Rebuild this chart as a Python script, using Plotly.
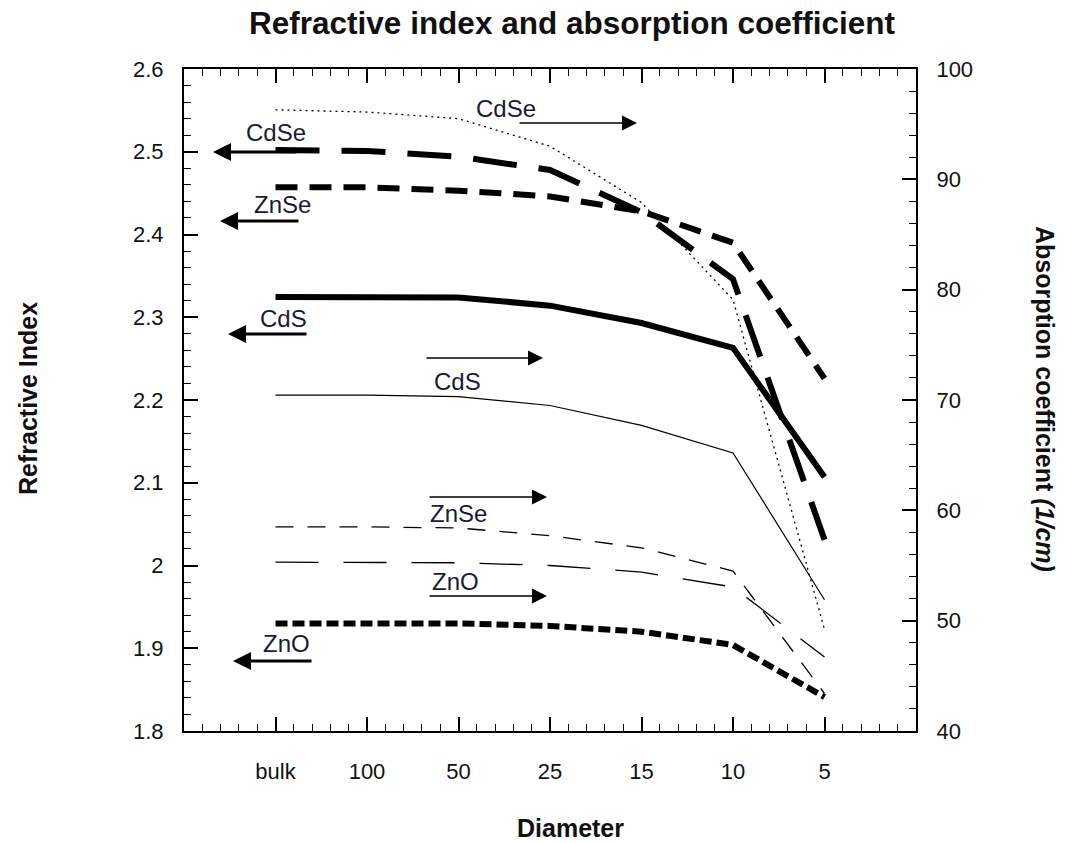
import plotly.graph_objects as go

# Nanoparticle diameter categories (nm), bulk first
diameters = ["bulk", "100", "50", "25", "15", "10", "5"]
xpos = list(range(len(diameters)))

# Refractive index (left axis)
n_cdse = [2.502, 2.501, 2.494, 2.478, 2.427, 2.346, 2.031]
n_znse = [2.457, 2.457, 2.453, 2.446, 2.428, 2.390, 2.226]
n_cds = [2.3245, 2.3245, 2.324, 2.314, 2.293, 2.263, 2.107]
n_zno = [1.930, 1.930, 1.930, 1.927, 1.920, 1.904, 1.841]

# Absorption coefficient in 1/cm (right axis)
a_cdse = [96.3, 96.1, 95.5, 93.0, 87.9, 79.1, 49.2]
a_cds = [70.45, 70.45, 70.3, 69.5, 67.7, 65.2, 51.9]
a_znse = [58.5, 58.5, 58.4, 57.7, 56.6, 54.5, 43.4]
a_zno = [55.3, 55.3, 55.25, 55.0, 54.4, 53.05, 46.7]

FONT = "Liberation Sans, Arial, sans-serif"
INK = "#111111"

# plot-area geometry in pixels (used for placing the annotations)
W, H = 1066, 843
L, R, T, B = 184, 916, 69, 731


def px(xp, yp):
    return (xp - L) / (R - L), (B - yp) / (B - T)


fig = go.Figure()

thick = [
    ("CdSe", n_cdse, "44px,22px"),
    ("ZnSe", n_znse, "22px,12px"),
    ("CdS", n_cds, "solid"),
    ("ZnO", n_zno, "12px,5px"),
]
for name, ys, dash in thick:
    fig.add_trace(go.Scatter(
        x=xpos, y=ys, mode="lines", name=name + " n",
        line=dict(color="black", width=6, dash=dash),
        yaxis="y", showlegend=False, hoverinfo="skip",
    ))

thin = [
    ("CdSe", a_cdse, "2px,4px", 1.3),
    ("CdS", a_cds, "solid", 1.2),
    ("ZnSe", a_znse, "18px,14px", 1.3),
    ("ZnO", a_zno, "43px,25px", 1.3),
]
for name, ys, dash, w in thin:
    fig.add_trace(go.Scatter(
        x=xpos, y=ys, mode="lines", name=name + " alpha",
        line=dict(color="black", width=w, dash=dash),
        yaxis="y2", showlegend=False, hoverinfo="skip",
    ))

annotations = []

# arrows pointing to the refractive-index axis (left)
left_arrows = [
    ("CdSe", (213, 152), (298, 152), (276, 133)),
    ("ZnSe", (220, 221), (300, 221), (282, 205)),
    ("CdS", (228, 334), (308, 334), (283, 318)),
    ("ZnO", (233, 661), (313, 661), (286, 643)),
]
# arrows pointing to the absorption axis (right)
right_arrows = [
    ("CdSe", (637, 123), (518, 123), (506, 108)),
    ("CdS", (543, 358), (425, 358), (457, 381)),
    ("ZnSe", (547, 497), (428, 497), (458, 513)),
    ("ZnO", (547, 596), (428, 596), (455, 581)),
]
for group, width, hsize in ((left_arrows, 3, 1.2), (right_arrows, 1.5, 2.0)):
    for label, head, tail, tpos in group:
        hx, hy = px(*head)
        annotations.append(dict(
            x=hx, y=hy, xref="paper", yref="paper", text="",
            showarrow=True, arrowhead=2, arrowsize=hsize, arrowwidth=width,
            arrowcolor="black", ax=tail[0] - head[0], ay=tail[1] - head[1],
            axref="pixel", ayref="pixel", standoff=0, startstandoff=0,
        ))
        lx, ly = px(*tpos)
        annotations.append(dict(
            x=lx, y=ly, xref="paper", yref="paper", text=label,
            showarrow=False, xanchor="center", yanchor="middle",
            font=dict(family=FONT, size=24, color="#1a1a33"),
        ))

# axis titles
tx, ty = px(570, 828)
annotations.append(dict(x=tx, y=ty, xref="paper", yref="paper",
                        text="<b>Diameter</b>", showarrow=False,
                        xanchor="center", yanchor="middle",
                        font=dict(family=FONT, size=25, color=INK)))
tx, ty = px(28, 399)
annotations.append(dict(x=tx, y=ty, xref="paper", yref="paper",
                        text="<b>Refractive Index</b>", showarrow=False,
                        textangle=-90, xanchor="center", yanchor="middle",
                        font=dict(family=FONT, size=25, color=INK)))
tx, ty = px(1045, 399)
annotations.append(dict(x=tx, y=ty, xref="paper", yref="paper",
                        text="<b>Absorption coefficient <i>(1/cm)</i></b>",
                        showarrow=False, textangle=90,
                        xanchor="center", yanchor="middle",
                        font=dict(family=FONT, size=25, color=INK)))

tick_font = dict(family=FONT, size=22, color=INK)

fig.update_layout(
    width=W, height=H,
    margin=dict(l=L, r=W - R, t=T, b=H - B),
    paper_bgcolor="white", plot_bgcolor="white",
    title=dict(text="<b>Refractive index and absorption coefficient</b>",
               x=572 / W, xref="container", xanchor="center",
               y=1 - 23 / H, yref="container", yanchor="middle",
               font=dict(family=FONT, size=31.5, color=INK)),
    annotations=annotations,
    xaxis=dict(
        range=[-1, 7], tickmode="array", tickvals=xpos, ticktext=diameters,
        showgrid=False, zeroline=False, showline=True, linecolor="black",
        linewidth=2, mirror="ticks", ticks="inside", ticklen=14,
        tickwidth=1.5, tickcolor="black", tickfont=tick_font,
        ticklabelstandoff=20,
        minor=dict(dtick=0.2, tick0=0, ticks="inside", ticklen=7,
                   tickwidth=1.2, tickcolor="black", showgrid=False),
    ),
    yaxis=dict(
        range=[1.8, 2.6], dtick=0.1, tick0=1.8,
        showgrid=False, zeroline=False, showline=True, linecolor="black",
        linewidth=2, ticks="inside", ticklen=14, tickwidth=1.5,
        tickcolor="black", tickfont=tick_font, ticklabelstandoff=14,
        minor=dict(dtick=0.02, ticks="inside", ticklen=7, tickwidth=1.2,
                   tickcolor="black", showgrid=False),
    ),
    yaxis2=dict(
        range=[40, 100], dtick=10, tick0=40, overlaying="y", side="right",
        showgrid=False, zeroline=False, showline=True, linecolor="black",
        linewidth=2, ticks="inside", ticklen=14, tickwidth=1.5,
        tickcolor="black", tickfont=tick_font, ticklabelstandoff=14,
        minor=dict(dtick=2, ticks="inside", ticklen=7, tickwidth=1.2,
                   tickcolor="black", showgrid=False),
    ),
)

fig.write_html("out.html")
